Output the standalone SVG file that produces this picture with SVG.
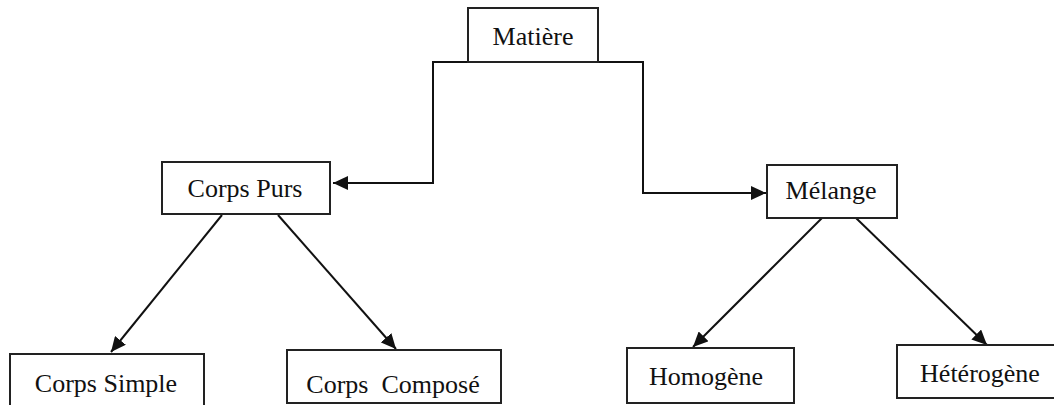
<svg xmlns="http://www.w3.org/2000/svg" width="1054" height="405" viewBox="0 0 1054 405">
<style>
.box{fill:#fff;stroke:#222;stroke-width:2}
.lbl{font-family:"Liberation Serif","Times New Roman",serif;font-size:26px;fill:#111;text-anchor:middle;white-space:pre}
.conn{fill:none;stroke:#111;stroke-width:2}
</style>
<defs>
<marker id="arr" markerUnits="userSpaceOnUse" markerWidth="16" markerHeight="14" refX="15" refY="7" orient="auto">
<path d="M0,0 L15,7 L0,14 Z" fill="#111"/>
</marker>
</defs>
<rect width="1054" height="405" fill="#fff"/>
<g id="connectors">
<path class="conn" d="M468,62 H433 V183 H333" marker-end="url(#arr)"/>
<path class="conn" d="M598,62 H643 V193 H766" marker-end="url(#arr)"/>
<line class="conn" x1="468" y1="62" x2="598" y2="62"/>
<line class="conn" x1="222" y1="215" x2="111" y2="352" marker-end="url(#arr)"/>
<line class="conn" x1="278" y1="215" x2="396" y2="349" marker-end="url(#arr)"/>
<line class="conn" x1="822" y1="218" x2="693" y2="347" marker-end="url(#arr)"/>
<line class="conn" x1="856" y1="218" x2="987" y2="345" marker-end="url(#arr)"/>
</g>
<g id="matiere"><rect class="box" x="468" y="8" width="130" height="54"/><text class="lbl" x="533" y="45">Matière</text></g>
<g id="corps-purs"><rect class="box" x="162" y="162" width="168" height="52"/><text class="lbl" x="245" y="197">Corps Purs</text></g>
<g id="melange"><rect class="box" x="767" y="165" width="130" height="53"/><text class="lbl" x="831" y="199">Mélange</text></g>
<g id="corps-simple"><rect class="box" x="10" y="354" width="194" height="60"/><text class="lbl" x="106" y="392">Corps Simple</text></g>
<g id="corps-compose"><rect class="box" x="287" y="350" width="214" height="53"/><text class="lbl" x="393" y="393">Corps  Composé</text></g>
<g id="homogene"><rect class="box" x="627" y="348" width="167" height="55"/><text class="lbl" x="706" y="385">Homogène</text></g>
<g id="heterogene"><rect class="box" x="897" y="345" width="170" height="53"/><text class="lbl" x="980" y="382">Hétérogène</text></g>
</svg>
